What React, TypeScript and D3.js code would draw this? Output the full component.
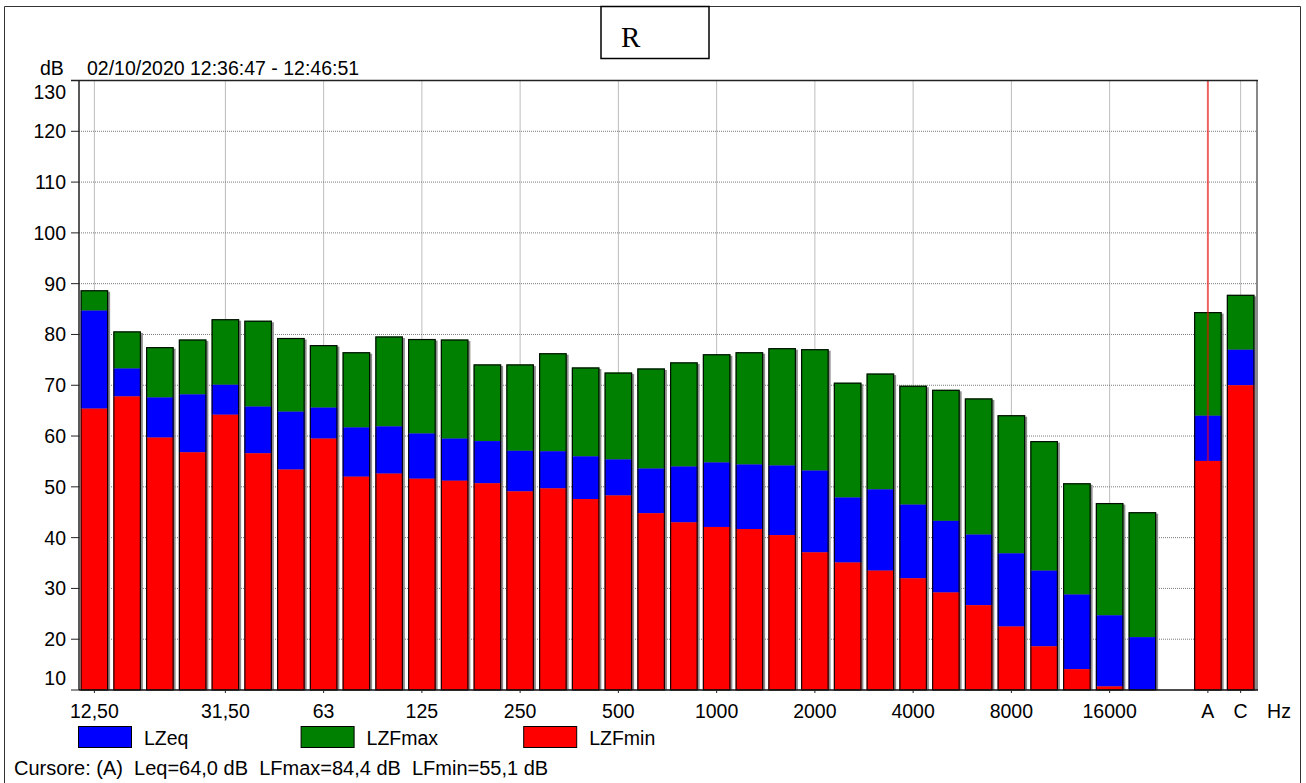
import React from "react";
import * as d3 from "d3";

const bands = ["12.5","16","20","25","31.5","40","50","63","80","100","125","160","200","250","315","400","500","630","800","1000","1250","1600","2000","2500","3150","4000","5000","6300","8000","10000","12500","16000","20000","A","C"];
const lzfmax = [88.7,80.6,77.5,79.0,83.0,82.7,79.3,77.9,76.5,79.6,79.1,79.0,74.1,74.1,76.3,73.5,72.5,73.3,74.5,76.1,76.5,77.3,77.1,70.5,72.3,69.9,69.1,67.4,64.1,59.0,50.7,46.8,45.0,84.4,87.8];
const lzeq = [84.7,73.3,67.6,68.2,70.1,65.8,64.8,65.6,61.7,61.9,60.5,59.5,59.0,57.1,57.0,56.0,55.4,53.6,54.0,54.8,54.4,54.2,53.2,47.9,49.5,46.5,43.3,40.6,36.9,33.5,28.8,24.7,20.4,64.0,77.0];
const lzfmin = [65.4,67.8,59.7,56.8,64.2,56.6,53.4,59.5,52.0,52.6,51.6,51.2,50.7,49.1,49.7,47.6,48.3,44.8,43.0,42.1,41.7,40.5,37.1,35.1,33.5,32.0,29.2,26.7,22.5,18.6,14.1,10.7,8.5,55.1,70.0];
const xTickBands = ["12.5","31.5","63","125","250","500","1000","2000","4000","8000","16000","A","C"];
const xTickText = ["12,50","31,50","63","125","250","500","1000","2000","4000","8000","16000","A","C"];
const yTicks = [10,20,30,40,50,60,70,80,90,100,110,120,130];
const legendNames = ["LZeq","LZFmax","LZFmin"];
const legendColors = ["#0000ff","#008000","#ff0000"];
const titleText = "R";
const dateText = "02/10/2020 12:36:47 - 12:46:51";
const cursorText = "Cursore: (A)  Leq=64,0 dB  LFmax=84,4 dB  LFmin=55,1 dB";
const cursorBand = "A";

const FONT = "'Liberation Sans', Arial, sans-serif";

export default function App() {
  const left = 79, right = 1257, top = 80.5, bottom = 690;
  const domain = [...bands.slice(0, 33), " ", "A", "C"];
  const x = d3.scaleBand<string>().domain(domain).range([78, 1257]).padding(0);
  const y = d3.scaleLinear().domain([10, 130]).range([bottom, top]);
  const bw = 27.5;
  const cx = (b: string) => (x(b) as number) + x.bandwidth() / 2;
  const yc = (v: number) => y(Math.max(10, v));

  const bars = bands.map((b, i) => {
    const x0 = cx(b) - bw / 2;
    const yMax = yc(lzfmax[i]);
    const yEq = yc(lzeq[i]);
    const yMin = yc(lzfmin[i]);
    return (
      <g key={b}>
        <rect x={x0 + 2} y={yMax + 1.5} width={bw} height={bottom - yMax - 1.5} fill="#8c8c8c" />
        <rect x={x0} y={yMax} width={bw} height={yEq - yMax} fill="#008000" />
        <rect x={x0} y={yEq} width={bw} height={yMin - yEq} fill="#0000ff" />
        <rect x={x0} y={yMin} width={bw} height={bottom - yMin} fill="#ff0000" />
        <rect x={x0 + 0.5} y={yMax + 0.5} width={bw - 1} height={bottom - yMax - 0.5} fill="none" stroke="#000" strokeOpacity={0.9} strokeWidth={1.2} />
      </g>
    );
  });

  return (
    <svg width={1306} height={783} style={{ position: "absolute", left: 0, top: 0, background: "#fff" }} fontFamily={FONT}>
      <rect x={0} y={0} width={1306} height={783} fill="#fff" />
      {/* outer frame */}
      <path d="M4.5,800 V6.5 H1300.5 V800" fill="none" stroke="#333" strokeWidth={1} />
      {/* title box */}
      <rect x={601} y={6.5} width={108} height={52} fill="#fff" stroke="#000" strokeWidth={1.5} />
      <text x={621} y={46.5} fontFamily="'Liberation Serif', 'Times New Roman', serif" fontSize={29}>{titleText}</text>
      <text x={40} y={75} fontSize={19.5}>dB</text>
      <text x={87} y={75} fontSize={19.5}>{dateText}</text>

      {/* grid */}
      {yTicks.slice(1, -1).map((t) => (
        <line key={"gy" + t} x1={left} x2={right} y1={y(t)} y2={y(t)} stroke="#7a7a7a" strokeWidth={1} strokeDasharray="1 1" />
      ))}
      {xTickBands.map((b) => (
        <line key={"gx" + b} x1={cx(b)} x2={cx(b)} y1={top} y2={bottom} stroke="#7a7a7a" strokeWidth={1} strokeDasharray="1 1" />
      ))}

      {bars}

      {/* cursor line */}
      <line x1={cx(cursorBand)} x2={cx(cursorBand)} y1={top} y2={bottom} stroke="#ff0000" strokeOpacity={0.55} strokeWidth={2} />

      {/* axes */}
      <line x1={right} x2={right} y1={top} y2={bottom} stroke="#888" strokeWidth={2} />
      <line x1={71} x2={right + 1} y1={top} y2={top} stroke="#222" strokeWidth={1.5} />
      <line x1={left} x2={left} y1={top} y2={bottom} stroke="#222" strokeWidth={1.5} />
      <line x1={left} x2={right + 1} y1={bottom} y2={bottom} stroke="#111" strokeWidth={1.5} />
      {yTicks.map((t) => (
        <g key={"ty" + t}>
          <line x1={71} x2={left} y1={y(t)} y2={y(t)} stroke="#222" strokeWidth={1} />
          <text x={66} y={Math.min(678, Math.max(91.5, y(t)))} dy="0.36em" textAnchor="end" fontSize={19.5}>{t}</text>
        </g>
      ))}
      {xTickBands.map((b, i) => (
        <g key={"tx" + b}>
          <line x1={cx(b)} x2={cx(b)} y1={bottom} y2={bottom + 3} stroke="#222" strokeWidth={1} />
          <text x={cx(b)} y={718} textAnchor="middle" fontSize={19.5}>{xTickText[i]}</text>
        </g>
      ))}
      <text x={1279} y={718} textAnchor="middle" fontSize={19.5}>Hz</text>

      {/* legend */}
      {legendNames.map((n, i) => (
        <g key={n} transform={`translate(${78 + i * 222.6},726)`}>
          <rect x={0.5} y={0.5} width={53} height={21} fill={legendColors[i]} stroke="#000" strokeWidth={1} />
          <text x={66} y={19} fontSize={19.5}>{n}</text>
        </g>
      ))}
      <text x={14} y={775} fontSize={20} style={{ whiteSpace: "pre" }}>{cursorText}</text>
    </svg>
  );
}
